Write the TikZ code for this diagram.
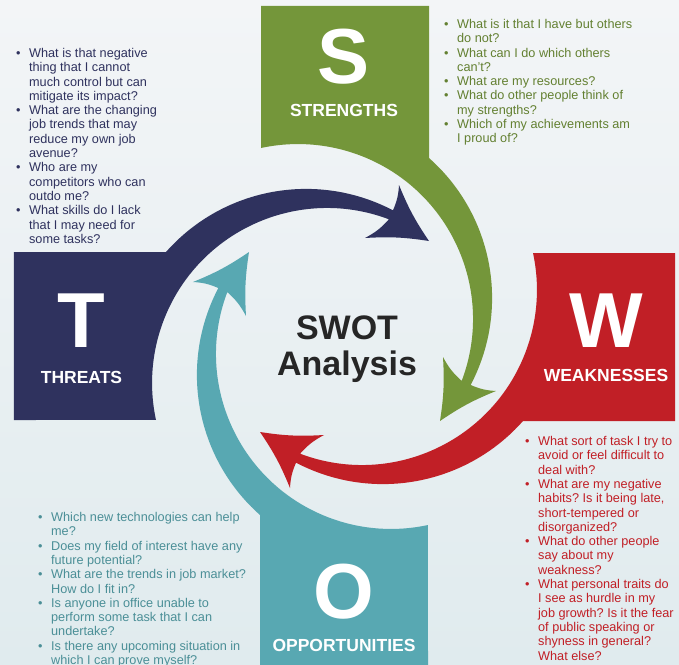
\documentclass[tikz,border=0pt]{standalone}
\usepackage{fontspec}
\setmainfont{Liberation Sans}
\usetikzlibrary{calc}
\frenchspacing
\definecolor{sgreen}{HTML}{74963A}
\definecolor{tnavy}{HTML}{2F325E}
\definecolor{wred}{HTML}{C11F26}
\definecolor{oteal}{HTML}{58A8B2}
\definecolor{bgtop}{HTML}{F3F5F7}
\definecolor{bgbot}{HTML}{E0EBEE}
\definecolor{swotgray}{HTML}{262626}
\tikzset{
	bigletter/.style={text=white, inner sep=0, font=\fontsize{78}{80}\selectfont\bfseries},
	boxlabel/.style={text=white, inner sep=0, font=\fontsize{17.5}{20}\selectfont\bfseries},
	qlist/.style={inner sep=0, anchor=base west, font=\fontsize{12.7}{14.3}\selectfont}
}
% one box with its arrow, drawn for the threats side and turned for the others
\def\swotarm#1#2{%
	\begin{scope}[rotate=#2]
		\fill[#1] (-330.5, 84.5) -- (-178.5, 84.5) arc[start angle=138.5, end angle=62.3, radius=187]
			to[bend right=10] (54.5, 151.5) to[bend right=6] (84.5, 95.5) to[bend right=6] (20.5, 98.5)
			to[bend right=10] (44.4, 117.2) arc[start angle=69.3, end angle=192.2, radius=175]
			-- (-330.5, -83.5) -- cycle;
	\end{scope}}

\begin{document}
\begin{tikzpicture}[x=1pt, y=1pt]
		%%%%% START %%%%%
		\useasboundingbox (-344.5, -327.5) rectangle (334.5, 336.5);
		\clip (-344.5, -327.5) rectangle (334.5, 336.5);
		\shade[top color=bgtop, bottom color=bgbot] (-344.5, -327.5) rectangle (334.5, 336.5);
		
		\swotarm{tnavy}{0}
		\swotarm{sgreen}{-90}
		\swotarm{wred}{180}
		\swotarm{oteal}{90}
		
		\node[bigletter] (s-letter) at (-0.5, 279.5) {S};
		\node[boxlabel] (s-label) at (-0.5, 226.5) {STRENGTHS};
		\node[bigletter] (t-letter) at (-263, 15.5) {T};
		\node[boxlabel] (t-label) at (-263, -40.5) {THREATS};
		\node[bigletter] (w-letter) at (261.5, 15.5) {W};
		\node[boxlabel] (w-label) at (261.5, -38.5) {WEAKNESSES};
		\node[bigletter] (o-letter) at (-0.5, -255.5) {O};
		\node[boxlabel] (o-label) at (-0.5, -308.5) {OPPORTUNITIES};
		
		\node[anchor=base, inner sep=0, text=swotgray, font=\fontsize{34}{37}\selectfont\bfseries] (swot) at (2.5, -2.5) {SWOT};
		\node[anchor=base, inner sep=0, text=swotgray, font=\fontsize{34}{37}\selectfont\bfseries] (analysis) at (2.5, -38.5) {Analysis};
		
		% strengths
		\node[qlist, text=sgreen!85!black] (s-list) at (99.5, 308) {\begin{tabular}[t]{@{}l@{\hspace{8.5pt}}l@{}}
			• & What is it that I have but others\\
			  & do not?\\
			• & What can I do which others\\
			  & can't?\\
			• & What are my resources?\\
			• & What do other people think of\\
			  & my strengths?\\
			• & Which of my achievements am\\
			  & I proud of?
		\end{tabular}};
		
		% threats
		\node[qlist, text=tnavy] (t-list) at (-328.5, 279) {\begin{tabular}[t]{@{}l@{\hspace{8.5pt}}l@{}}
			• & What is that negative\\
			  & thing that I cannot\\
			  & much control but can\\
			  & mitigate its impact?\\
			• & What are the changing\\
			  & job trends that may\\
			  & reduce my own job\\
			  & avenue?\\
			• & Who are my\\
			  & competitors who can\\
			  & outdo me?\\
			• & What skills do I lack\\
			  & that I may need for\\
			  & some tasks?
		\end{tabular}};
		
		% weaknesses
		\node[qlist, text=wred] (w-list) at (180.5, -109) {\begin{tabular}[t]{@{}l@{\hspace{8.5pt}}l@{}}
			• & What sort of task I try to\\
			  & avoid or feel difficult to\\
			  & deal with?\\
			• & What are my negative\\
			  & habits? Is it being late,\\
			  & short-tempered or\\
			  & disorganized?\\
			• & What do other people\\
			  & say about my\\
			  & weakness?\\
			• & What personal traits do\\
			  & I see as hurdle in my\\
			  & job growth? Is it the fear\\
			  & of public speaking or\\
			  & shyness in general?\\
			  & What else?
		\end{tabular}};
		
		% opportunities
		\node[qlist, text=oteal!85!black] (o-list) at (-306.5, -185) {\begin{tabular}[t]{@{}l@{\hspace{8.5pt}}l@{}}
			• & Which new technologies can help\\
			  & me?\\
			• & Does my field of interest have any\\
			  & future potential?\\
			• & What are the trends in job market?\\
			  & How do I fit in?\\
			• & Is anyone in office unable to\\
			  & perform some task that I can\\
			  & undertake?\\
			• & Is there any upcoming situation in\\
			  & which I can prove myself?
		\end{tabular}};
		%%%%% END %%%%%
	\end{tikzpicture}
\end{document}
